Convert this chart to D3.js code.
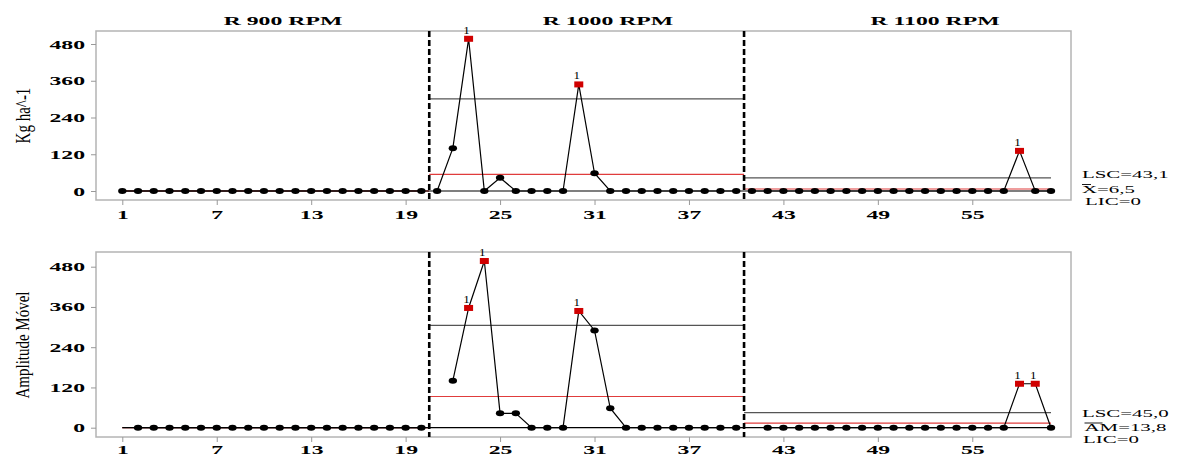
<!DOCTYPE html>
<html>
<head>
<meta charset="utf-8">
<script src="https://cdn.jsdelivr.net/npm/d3@7"></script>
<style>
    body { margin: 0; background: #fff; }
    text { font-family: "Liberation Serif", "Times New Roman", serif; fill: #000; }
</style>
</head>
<body>
<div id="container"></div>
<script>
// 阶段 (phases)
const phaseNames = ["R 900 RPM", "R 1000 RPM", "R 1100 RPM"];
const phaseStart = [1, 21, 41];
const phaseEnd = [20, 40, 60];

// 观测值 (individual values), obs 1..60
const indivValues = [
    0, 0, 0, 0, 0, 0, 0, 0, 0, 0, 0, 0, 0, 0, 0, 0, 0, 0, 0, 0,
    0, 140, 497, 0, 43, 0, 0, 0, 0, 348, 58, 0, 0, 0, 0, 0, 0, 0, 0, 0,
    0, 0, 0, 0, 0, 0, 0, 0, 0, 0, 0, 0, 0, 0, 0, 0, 0, 131, 0, 0
];
// 移动极差 (moving range), null = first obs of a phase
const mrValues = [
    null, 0, 0, 0, 0, 0, 0, 0, 0, 0, 0, 0, 0, 0, 0, 0, 0, 0, 0, 0,
    null, 140, 357, 497, 43, 43, 0, 0, 0, 348, 290, 58, 0, 0, 0, 0, 0, 0, 0, 0,
    null, 0, 0, 0, 0, 0, 0, 0, 0, 0, 0, 0, 0, 0, 0, 0, 0, 131, 131, 0
];

// 控制限 per phase
const indivUCL = [0, 301, 43.1];
const indivCL = [0, 54, 6.5];
const indivLCL = [0, 0, 0];
const mrUCL = [0, 305, 45.0];
const mrCL = [0, 93, 13.8];
const mrLCL = [0, 0, 0];

// 刻度
const xTicks = [1, 7, 13, 19, 25, 31, 37, 43, 49, 55];
const yTicks = [0, 120, 240, 360, 480];

// 图片是被横向拉伸过的
const SX = 1.9;
const WIDTH = 1178, HEIGHT = 457;
const LEFT = 96, RIGHT = 1071;

const svg = d3.select("#container").append("svg")
    .attr("width", WIDTH)
    .attr("height", HEIGHT);

const x = d3.scaleLinear().domain([1, 60]).range([122.3, 1051]);

main();

function main() {
    drawPanel({
        values: indivValues, ucl: indivUCL, cl: indivCL, lcl: indivLCL,
        top: 31, bottom: 200, y0: 191, y480: 44, tickTextY: 19.5,
        title: "Kg ha^-1", titleY: 115.5, titleScale: 1.45,
        labels: ["LSC=43,1", "X=6,5", "LIC=0"],
        labelY: [177.7, 192.5, 204.5], labelX: [1082, 1082, 1085],
        barWidth: 8
    });
    drawPanel({
        values: mrValues, ucl: mrUCL, cl: mrCL, lcl: mrLCL,
        top: 252, bottom: 437, y0: 427.7, y480: 266.7, tickTextY: 17,
        title: "Amplitude Móvel", titleY: 345, titleScale: 1.3,
        labels: ["LSC=45,0", "AM=13,8", "LIC=0"],
        labelY: [416.5, 431, 442.5], labelX: [1082, 1084.5, 1083],
        barWidth: 17
    });
    drawPhaseTitles();
}

// 阶段标题
function drawPhaseTitles() {
    const titleX = [283, 608, 935];
    svg.selectAll("text.phase")
        .data(phaseNames)
        .enter()
        .append("text")
        .attr("class", "phase")
        .attr("transform", (d, i) => `translate(${titleX[i]},25) scale(${SX},1)`)
        .attr("text-anchor", "middle")
        .style("font-size", "12.5px")
        .style("font-weight", "bold")
        .text(d => d);
}

function drawPanel(cfg) {
    const y = d3.scaleLinear().domain([0, 480]).range([cfg.y0, cfg.y480]);
    const g = svg.append("g");

    // 边框
    g.append("rect")
        .attr("x", LEFT)
        .attr("y", cfg.top)
        .attr("width", RIGHT - LEFT)
        .attr("height", cfg.bottom - cfg.top)
        .attr("fill", "none")
        .attr("stroke", "#b4b4b4")
        .attr("stroke-width", 1.5);

    // y 轴
    const yAxis = g.append("g")
        .attr("transform", `translate(${LEFT},0)`)
        .call(d3.axisLeft(y).tickValues(yTicks).tickSize(5));
    yAxis.select(".domain").remove();
    yAxis.selectAll("line").attr("stroke", "#999");
    yAxis.selectAll("text")
        .attr("x", -11 / SX)
        .attr("transform", `scale(${SX},1)`)
        .style("font-size", "12.5px")
        .style("font-weight", "bold")
        .style("font-family", '"Liberation Serif", serif')
        .attr("fill", "#000");

    // x 轴
    const xAxis = g.append("g")
        .attr("transform", `translate(0,${cfg.bottom})`)
        .call(d3.axisBottom(x).tickValues(xTicks).tickSize(5));
    xAxis.select(".domain").remove();
    xAxis.selectAll("line").attr("stroke", "#999");
    xAxis.selectAll("text")
        .attr("y", cfg.tickTextY)
        .attr("dy", 0)
        .attr("transform", `scale(${SX},1)`)
        .style("font-size", "12.5px")
        .style("font-weight", "bold")
        .style("font-family", '"Liberation Serif", serif')
        .attr("fill", "#000");

    // y 轴标题
    g.append("text")
        .attr("transform", `translate(22,${cfg.titleY}) scale(${cfg.titleScale},1) rotate(-90)`)
        .attr("text-anchor", "middle")
        .attr("dy", "0.35em")
        .style("font-size", "15px")
        .text(cfg.title);

    // 控制限
    const limits = [
        { key: "ucl", color: "#555" },
        { key: "cl", color: "#e03c3c" },
        { key: "lcl", color: "#000" }
    ];
    for (let p = 0; p < phaseNames.length; ++p) {
        let x1 = Math.max(1, phaseStart[p] - 0.5),
            x2 = Math.min(60, phaseEnd[p] + 0.5);
        for (let lim of limits) {
            let v = cfg[lim.key][p];
            g.append("line")
                .attr("x1", x(x1))
                .attr("x2", x(x2))
                .attr("y1", y(v))
                .attr("y2", y(v))
                .attr("stroke", lim.color)
                .attr("stroke-width", 1.2);
        }
    }

    // 数据点
    const data = cfg.values.map((v, i) => {
        let p = phaseStart.findIndex((s, k) => i + 1 >= s && i + 1 <= phaseEnd[k]);
        return { i: i + 1, v: v, p: p, out: v !== null && v > cfg.ucl[p] };
    });

    const line = d3.line()
        .defined(d => d.v !== null)
        .x(d => x(d.i))
        .y(d => y(d.v));
    for (let p = 0; p < phaseNames.length; ++p) {
        g.append("path")
            .datum(data.filter(d => d.p === p))
            .attr("d", line)
            .attr("fill", "none")
            .attr("stroke", "#000")
            .attr("stroke-width", 1.2);
    }

    const pts = data.filter(d => d.v !== null);
    g.selectAll("ellipse")
        .data(pts.filter(d => !d.out))
        .enter()
        .append("ellipse")
        .attr("cx", d => x(d.i))
        .attr("cy", d => y(d.v))
        .attr("rx", 4.2)
        .attr("ry", 3)
        .attr("fill", "#000");

    const outs = pts.filter(d => d.out);
    g.selectAll("rect.out")
        .data(outs)
        .enter()
        .append("rect")
        .attr("class", "out")
        .attr("x", d => x(d.i) - 4.5)
        .attr("y", d => y(d.v) - 3)
        .attr("width", 9)
        .attr("height", 6)
        .attr("fill", "#d00000");
    g.selectAll("text.flag")
        .data(outs)
        .enter()
        .append("text")
        .attr("class", "flag")
        .attr("transform", d => `translate(${x(d.i) - 2},${y(d.v) - 5}) scale(1.3,1)`)
        .attr("text-anchor", "middle")
        .style("font-size", "10px")
        .text("1");

    // 分阶段虚线
    for (let p = 1; p < phaseNames.length; ++p) {
        let xv = x(phaseStart[p] - 0.5);
        g.append("line")
            .attr("x1", xv)
            .attr("x2", xv)
            .attr("y1", cfg.top)
            .attr("y2", cfg.bottom)
            .attr("stroke", "#000")
            .attr("stroke-width", 2.6)
            .attr("stroke-dasharray", "6,3");
    }

    // 右侧标签
    cfg.labels.forEach((t, k) => {
        g.append("text")
            .attr("transform", `translate(${cfg.labelX[k]},${cfg.labelY[k]}) scale(${SX},1)`)
            .style("font-size", "11px")
            .text(t);
    });
    // 中心线标签上划线 (X̄ / AM)
    g.append("line")
        .attr("x1", cfg.labelX[1])
        .attr("x2", cfg.labelX[1] + cfg.barWidth + 1)
        .attr("y1", cfg.labelY[1] - 8)
        .attr("y2", cfg.labelY[1] - 8)
        .attr("stroke", "#000")
        .attr("stroke-width", 0.9);
}
</script>
</body>
</html>
